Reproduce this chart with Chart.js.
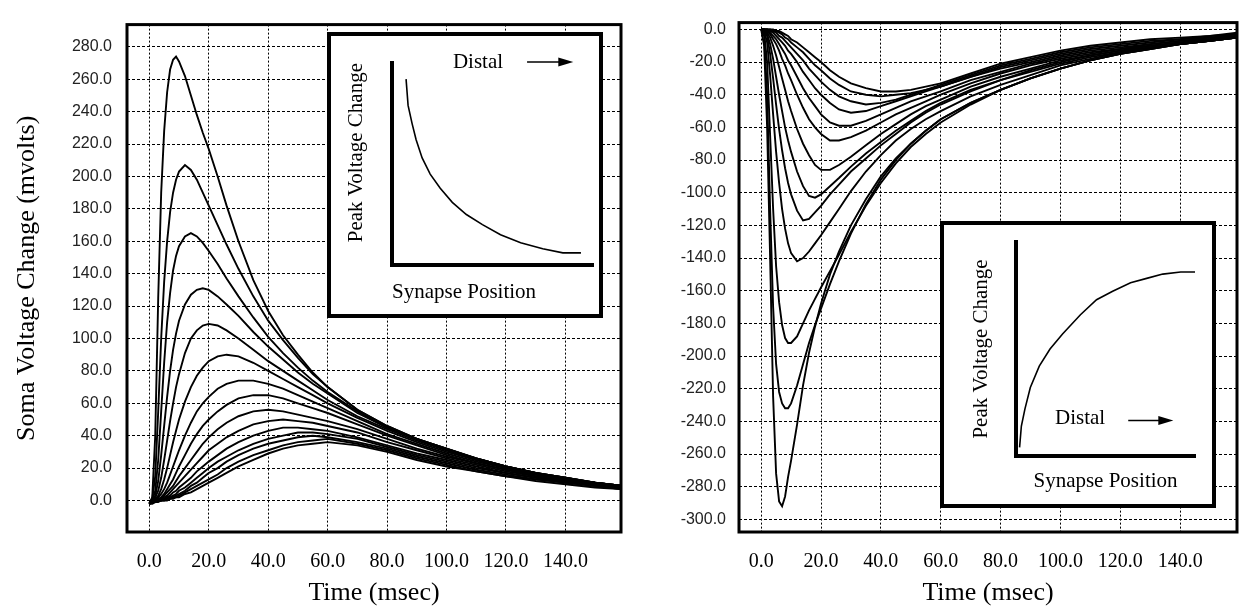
<!DOCTYPE html>
<html><head><meta charset="utf-8">
<script src="https://cdn.jsdelivr.net/npm/chart.js@4.4.1/dist/chart.umd.min.js"></script>
<style>
html,body{margin:0;padding:0;background:#fff;width:1241px;height:606px;overflow:hidden}
#wrap{position:relative;width:1241px;height:606px}
#wrap>canvas{position:absolute;top:0;display:block}
.inset{position:absolute;border:4px solid #000;background:#fff}
.inset canvas{position:absolute;left:0;top:0;display:block}
</style></head><body>
<div id="wrap">
<canvas id="leftChart" width="630" height="606" style="left:0;width:630px;height:606px"></canvas>
<canvas id="rightChart" width="611" height="606" style="left:630px;width:611px;height:606px"></canvas>
<div class="inset" style="left:327px;top:32px;width:268px;height:278px"><canvas id="insetLeft" width="268" height="278" style="width:268px;height:278px"></canvas></div>
<div class="inset" style="left:940px;top:221px;width:268px;height:279px"><canvas id="insetRight" width="268" height="279" style="width:268px;height:279px"></canvas></div>
</div>
<script>
// ---- data ----
const timeMs = [0,1,2,3,4,5,6,7,8,9,10,12,14,16,18,20,23,26,30,35,40,45,50,55,60,70,80,90,100,110,120,130,140,150,159];
const timeTicks = [0,20,40,60,80,100,120,140];
const leftTicksY = [0,20,40,60,80,100,120,140,160,180,200,220,240,260,280];
const rightTicksY = [0,-20,-40,-60,-80,-100,-120,-140,-160,-180,-200,-220,-240,-260,-280,-300];

// Left panel: soma voltage change, one trace per synapse position (proximal -> distal)
const L01 = [-2,2,40,125,190,228,252,266,272,274,271, 262,250,238,227,217, 200,182,160,136,117,102,90,79,70, 56,46,38,32,26,21,17,14,11,9];
const L02 = [-2,1,15,55,100,135,160,178,190,198,203, 207,204,198,190,182, 170,158,143,126,111,99,88,78,70, 56,46,38,32,26,21,17,14,11,9];
const L03 = [-2,0,6,25,55,85,110,128,142,151,157, 163,165,163,159,154, 146,137,126,113,101,91,82,74,67, 55,45,38,32,26,21,17,14,11,9];
const L04 = [-2,0,3,12,28,46,64,80,93,103,111, 121,127,130,131,130, 126,121,114,104,95,87,79,72,66, 54,45,38,31,26,21,17,14,11,9];
const L05 = [-2,0,2,6,14,25,37,49,60,70,78, 91,100,105,108,109, 108,105,100,93,86,80,74,68,62, 52,44,37,31,25,21,17,13,11,9];
const L06 = [-2,0,1,3,7,13,20,28,36,43,50, 61,70,77,82,86, 89,90,89,85,80,75,70,65,60, 51,43,36,30,25,20,16,13,11,9];
const L07 = [-2,-1,0,2,4,7,11,16,21,26,31, 40,48,55,60,64, 69,72,74,74,72,69,65,61,57, 49,41,35,29,24,20,16,13,10,8];
const L08 = [-2,-1,0,1,2,4,7,10,13,17,21, 28,35,41,46,50, 55,59,63,65,65,63,60,57,54, 47,40,34,28,23,19,16,13,10,8];
const L09 = [-2,-1,0,1,1,3,5,7,9,12,15, 20,25,30,35,39, 44,48,52,55,56,55,53,51,49, 44,38,32,27,23,19,15,12,10,8];
const L10 = [-2,-1,0,0,1,2,3,5,7,9,11, 15,19,23,27,31, 35,39,43,47,49,50,49,48,46, 42,36,31,26,22,18,15,12,10,8];
const L11 = [-2,-1,0,0,1,1,2,3,5,6,8, 11,14,18,21,24, 28,32,36,40,43,45,45,44,43, 39,34,29,25,21,17,14,12,10,8];
const L12 = [-2,-1,0,0,0,1,2,2,3,4,6, 8,11,14,17,20, 24,27,31,35,38,40,42,42,41, 38,33,28,24,20,17,14,11,9,8];
const L13 = [-2,-1,-1,0,0,1,1,2,2,3,4, 6,9,11,14,17, 20,24,28,32,35,37,39,40,39, 36,32,27,23,19,16,13,11,9,7];
const L14 = [-2,-1,-1,0,0,0,1,1,2,2,3, 5,7,9,11,13, 16,20,24,28,31,34,36,37,38, 35,31,26,22,18,15,13,11,9,7];
const L15 = [-2,-2,-1,-1,0,0,0,1,1,2,2, 4,5,7,9,11, 14,17,21,25,29,32,34,35,36, 34,30,25,21,18,15,12,10,8,7];

// Right panel
const R01 = [0,-10,-60,-140,-225,-272,-289,-292,-286,-274,-264, -242,-218,-198,-182,-168, -150,-136,-120,-104,-90,-79,-70,-62,-55, -45,-37,-30,-24,-19,-15,-12,-9,-7,-5];
const R02 = [0,-4,-40,-110,-170,-205,-222,-229,-232,-232,-229, -218,-205,-192,-181,-171, -156,-142,-125,-107,-92,-80,-70,-62,-55, -45,-37,-30,-24,-19,-15,-12,-9,-7,-5];
const R03 = [0,-2,-20,-65,-110,-145,-167,-181,-189,-192,-192, -188,-180,-172,-165,-158, -148,-138,-124,-108,-94,-82,-72,-64,-57, -46,-37,-30,-24,-19,-15,-12,-9,-7,-5];
const R04 = [0,-1,-8,-28,-52,-75,-94,-110,-122,-131,-137, -142,-140,-136,-131,-126, -118,-110,-99,-87,-77,-68,-61,-55,-50, -41,-34,-28,-22,-18,-14,-11,-9,-7,-5];
const R05 = [0,-1,-4,-15,-30,-46,-61,-74,-85,-94,-101, -111,-117,-116,-112,-108, -101,-95,-87,-79,-71,-64,-57,-51,-46, -38,-31,-26,-21,-17,-14,-11,-9,-7,-5];
const R06 = [0,-1,-3,-9,-18,-29,-40,-50,-60,-68,-75, -87,-96,-102,-103,-101, -96,-91,-84,-76,-69,-62,-56,-50,-45, -37,-31,-25,-20,-16,-13,-11,-9,-7,-5];
const R07 = [0,0,-2,-5,-10,-16,-23,-30,-37,-44,-50, -61,-70,-77,-83,-86, -86,-83,-78,-71,-64,-58,-52,-47,-43, -35,-29,-24,-19,-16,-13,-10,-8,-6,-5];
const R08 = [0,0,-1,-3,-6,-9,-13,-18,-22,-27,-31, -40,-48,-55,-60,-64, -68,-68,-66,-62,-57,-52,-48,-44,-40, -33,-27,-22,-18,-15,-12,-10,-8,-6,-4];
const R09 = [0,0,-1,-2,-4,-6,-9,-12,-15,-19,-22, -29,-36,-42,-47,-52, -57,-59,-59,-56,-52,-48,-44,-41,-38, -31,-26,-21,-17,-14,-12,-9,-7,-6,-4];
const R10 = [0,0,0,-1,-2,-4,-6,-8,-10,-13,-15, -20,-26,-31,-36,-40, -45,-49,-51,-50,-47,-44,-41,-38,-35, -29,-24,-20,-16,-13,-11,-9,-7,-5,-4];
const R11 = [0,0,0,-1,-1,-2,-4,-5,-7,-9,-11, -15,-19,-24,-28,-32, -37,-41,-44,-46,-45,-43,-40,-37,-35, -29,-23,-19,-15,-12,-10,-8,-6,-5,-3];
const R12 = [0,0,0,0,-1,-1,-2,-3,-5,-6,-8, -11,-14,-18,-22,-25, -30,-34,-38,-40,-41,-40,-39,-37,-34, -28,-22,-18,-14,-11,-9,-7,-6,-4,-3];
const R13 = [0,0,0,0,0,-1,-1,-2,-3,-4,-6, -8,-11,-14,-17,-20, -25,-29,-33,-36,-38,-38,-37,-35,-33, -27,-21,-17,-13,-10,-8,-6,-5,-4,-2];

// Insets: peak voltage change vs synapse position (arbitrary units)
const insetLeftPos  = [7,8,10,12,15,19,24,30,37,45,54,64,75,85,94];
const insetLeftPeak = [92,79,70,62,53,45,38,31,25,20,15,11,8,6,6];
const insetRightPos  = [2,3,5,8,13,19,26,36,45,54,64,73,82,92,100];
const insetRightPeak = [4,14,22,32,42,50,57,66,73,77,81,83,85,86,86];

const leftTraces = [L01,L02,L03,L04,L05,L06,L07,L08,L09,L10,L11,L12,L13,L14,L15];
const rightTraces = [R01,R02,R03,R04,R05,R06,R07,R08,R09,R10,R11,R12,R13];

// ---- drawing ----
Chart.defaults.color = '#000';
Chart.defaults.font.family = "'Liberation Serif','Times New Roman',serif";

const framePlugin = {
  id: 'frame',
  afterDraw(chart) {
    const {ctx, chartArea: a} = chart;
    ctx.save();
    ctx.strokeStyle = '#000';
    ctx.lineWidth = 3;
    ctx.strokeRect(a.left, a.top, a.right - a.left, a.bottom - a.top);
    ctx.restore();
  }
};

function traceSets(traces) {
  return traces.map(tr => ({
    data: timeMs.map((t, i) => ({x: t, y: tr[i]})),
    borderColor: '#000', borderWidth: 1.9, pointRadius: 0, tension: 0, fill: false
  }));
}

function mainChart(id, traces, cfg) {
  return new Chart(document.getElementById(id), {
    type: 'line',
    data: {datasets: traceSets(traces)},
    options: {
      responsive: false, animation: false, devicePixelRatio: 1,
      layout: {padding: {top: 8, right: cfg.padRight, left: 0, bottom: 0}},
      plugins: {legend: {display: false}, tooltip: {enabled: false}},
      scales: {
        x: {
          type: 'linear', min: cfg.xMin, max: cfg.xMax,
          afterBuildTicks: s => { s.ticks = timeTicks.map(v => ({value: v})); },
          afterFit: s => { s.height = 74; },
          grid: {color: '#000', lineWidth: 1, drawTicks: false, borderDash: [2, 2]},
          border: {display: false, dash: [2, 2]},
          ticks: {padding: 18, autoSkip: false, maxRotation: 0, color: '#000',
                  font: {family: "'Liberation Serif',serif", size: 20},
                  callback: v => Number(v).toFixed(1)},
          title: {display: true, text: 'Time (msec)', color: '#000',
                  font: {family: "'Liberation Serif',serif", size: 26, lineHeight: 1},
                  padding: {top: 0, bottom: 0}}
        },
        y: {
          type: 'linear', min: cfg.yMin, max: cfg.yMax,
          afterBuildTicks: s => { s.ticks = cfg.yTicks.map(v => ({value: v})); },
          afterFit: s => { s.width = cfg.yWidth; },
          grid: {color: '#000', lineWidth: 1, drawTicks: false, borderDash: [3, 2]},
          border: {display: false, dash: [3, 2]},
          ticks: {padding: cfg.yPad, autoSkip: false, color: '#222',
                  font: {family: "'Liberation Sans',Arial,sans-serif", size: 16},
                  callback: v => Number(v).toFixed(1)},
          title: {display: !!cfg.yTitle, text: cfg.yTitle || '', color: '#000',
                  font: {family: "'Liberation Serif',serif", size: 26, lineHeight: 1},
                  padding: {top: 14, bottom: 0}}
        }
      }
    },
    plugins: [framePlugin]
  });
}

mainChart('leftChart', leftTraces, {
  xMin: -7.5, xMax: 158.7, yMin: -19.45, yMax: 293.75, yTicks: leftTicksY,
  yWidth: 127, yPad: 15, padRight: 9, yTitle: 'Soma Voltage Change (mvolts)'
});
mainChart('rightChart', rightTraces, {
  xMin: -7.4, xMax: 159.0, yMin: -307.74, yMax: 4.17, yTicks: rightTicksY,
  yWidth: 109, yPad: 13, padRight: 4, yTitle: null
});

const distalPlugin = {
  id: 'distal',
  afterDraw(chart, args, o) {
    const {ctx, scales: {x, y}} = chart;
    ctx.save();
    ctx.fillStyle = '#000';
    ctx.strokeStyle = '#000';
    ctx.font = "21px 'Liberation Serif',serif";
    ctx.textAlign = 'center';
    ctx.textBaseline = 'middle';
    ctx.fillText(o.text, x.getPixelForValue(o.textAt[0]), y.getPixelForValue(o.textAt[1]));
    const x1 = x.getPixelForValue(o.arrow[0]);
    const x2 = x.getPixelForValue(o.arrow[1]);
    const ay = y.getPixelForValue(o.arrow[2]);
    ctx.lineWidth = 1.6;
    ctx.beginPath(); ctx.moveTo(x1, ay); ctx.lineTo(x2 - 10, ay); ctx.stroke();
    ctx.beginPath(); ctx.moveTo(x2, ay); ctx.lineTo(x2 - 15, ay - 4.5); ctx.lineTo(x2 - 15, ay + 4.5); ctx.closePath(); ctx.fill();
    ctx.restore();
  }
};

function insetChart(id, pos, peak, cfg) {
  return new Chart(document.getElementById(id), {
    type: 'line',
    data: {datasets: [{
      data: pos.map((p, i) => ({x: p, y: peak[i]})),
      borderColor: '#000', borderWidth: 1.6, pointRadius: 0, tension: 0, fill: false
    }]},
    options: {
      responsive: false, animation: false, devicePixelRatio: 1,
      layout: {padding: {top: cfg.padTop, right: cfg.padRight, left: 0, bottom: 0}},
      plugins: {legend: {display: false}, tooltip: {enabled: false}, distal: cfg.distal},
      scales: {
        x: {
          type: 'linear', min: 0, max: 100,
          grid: {display: false}, ticks: {display: false},
          border: {display: true, width: 4, color: '#000'},
          afterFit: s => { s.height = cfg.xHeight; },
          title: {display: true, text: 'Synapse Position', align: cfg.xAlign, color: '#000',
                  font: {family: "'Liberation Serif',serif", size: 21, lineHeight: 1.2},
                  padding: {top: 0, bottom: cfg.xTitlePad}}
        },
        y: {
          type: 'linear', min: 0, max: 100,
          grid: {display: false}, ticks: {display: false},
          border: {display: true, width: 4, color: '#000'},
          afterFit: s => { s.width = cfg.yWidth; },
          title: {display: true, text: 'Peak Voltage Change', align: cfg.yAlign, color: '#000',
                  font: {family: "'Liberation Serif',serif", size: 21, lineHeight: 1.2},
                  padding: {top: cfg.yTitlePad, bottom: 0}}
        }
      }
    },
    plugins: [distalPlugin]
  });
}

insetChart('insetLeft', insetLeftPos, insetLeftPeak, {
  padTop: 27, padRight: 6, xHeight: 49, yWidth: 61, xAlign: 'start', yAlign: 'end',
  xTitlePad: 9.4, yTitlePad: 13.1,
  distal: {text: 'Distal', textAt: [42.8, 100.5], arrow: [67.2, 90.2, 100.5]}
});
insetChart('insetRight', insetRightPos, insetRightPeak, {
  padTop: 17, padRight: 17, xHeight: 48, yWidth: 72, xAlign: 'center', yAlign: 'center',
  xTitlePad: 9.7, yTitlePad: 25.1,
  distal: {text: 'Distal', textAt: [35.8, 17.3], arrow: [62.7, 87.9, 16.6]}
});
</script>
</body></html>
